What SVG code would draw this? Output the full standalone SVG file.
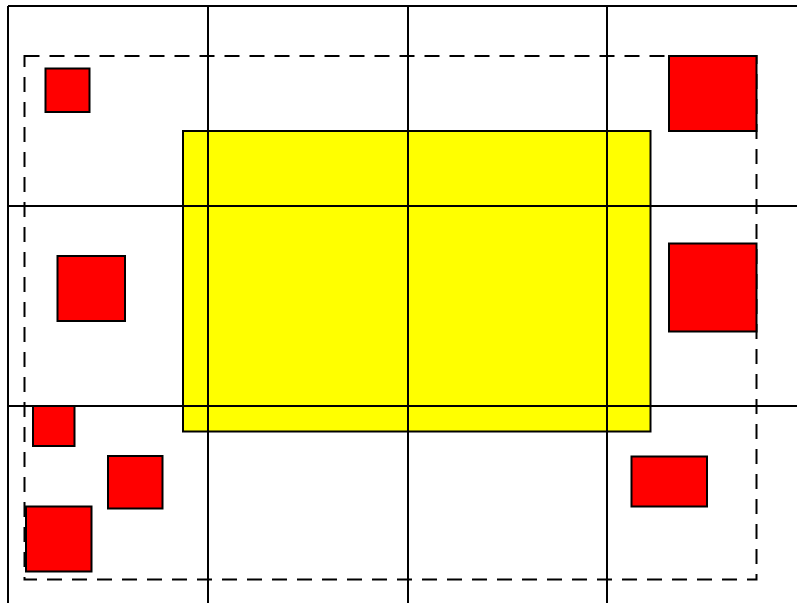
<svg xmlns="http://www.w3.org/2000/svg" width="797" height="603" viewBox="0 0 797 603">
<style>
.grid{stroke:#000;stroke-width:2;fill:none}
.bound{stroke:#000;stroke-width:2;fill:none;stroke-dasharray:15,10}
.obj{fill:#ff0000;stroke:#000;stroke-width:2}
.big{fill:#ffff00;stroke:#000;stroke-width:2}
</style>
<rect width="797" height="603" fill="#fff"/>
<g id="yellow"><rect class="big" x="183" y="131" width="467.5" height="300.5"/></g>
<g id="grid" class="grid">
<line x1="8" y1="6" x2="797" y2="6"/>
<line x1="8" y1="206" x2="797" y2="206"/>
<line x1="8" y1="406" x2="797" y2="406"/>
<line x1="8" y1="6" x2="8" y2="603"/>
<line x1="208" y1="6" x2="208" y2="603"/>
<line x1="408" y1="6" x2="408" y2="603"/>
<line x1="607" y1="6" x2="607" y2="603"/>
</g>
<g id="bounds"><rect class="bound" x="24.5" y="56" width="732" height="523.5"/></g>
<g id="r1"><rect class="obj" x="45.5" y="68.5" width="44" height="43.5"/></g>
<g id="r2"><rect class="obj" x="669" y="56" width="87.5" height="75"/></g>
<g id="r3"><rect class="obj" x="57.5" y="256" width="67.5" height="65"/></g>
<g id="r4"><rect class="obj" x="669" y="243.5" width="87.5" height="88"/></g>
<g id="r5"><rect class="obj" x="33" y="406" width="41.5" height="40"/></g>
<g id="r6"><rect class="obj" x="108" y="456" width="54.5" height="52.5"/></g>
<g id="r7"><rect class="obj" x="26" y="506.5" width="65.5" height="65"/></g>
<g id="r8"><rect class="obj" x="631.5" y="456.5" width="75.5" height="50"/></g>
</svg>
